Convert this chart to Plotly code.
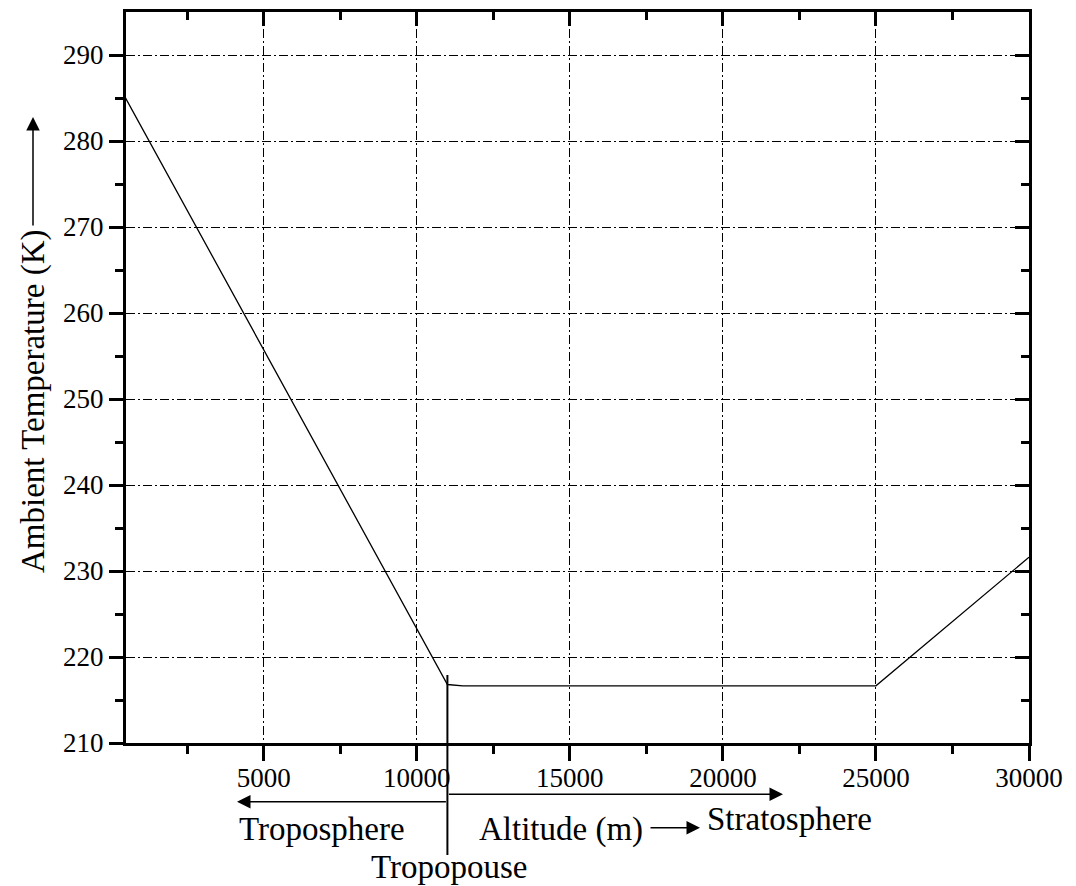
import plotly.graph_objects as go

# ---- data ----
altitude_m = [0, 11000, 11500, 25000, 30000]
temperature_K = [288.15, 216.8, 216.65, 216.65, 231.6]

x_major = [5000, 10000, 15000, 20000, 25000, 30000]
x_major_text = ["5000", "10000", "15000", "20000", "25000", "30000"]
x_minor = [2500, 7500, 12500, 17500, 22500, 27500]
y_major = [210, 220, 230, 240, 250, 260, 270, 280, 290]
y_major_text = [str(v) for v in y_major]
y_minor = [215, 225, 235, 245, 255, 265, 275, 285]

x_range = [500, 30000]
y_range = [210, 295]
tropopause_alt = 11000

# ---- layout geometry (window pixels; page body has an 8px margin) ----
W, H = 1076, 886
OFF = 8
PLOT_L, PLOT_R, PLOT_T, PLOT_B = 126, 1029, 12, 743
PW, PH = PLOT_R - PLOT_L, PLOT_B - PLOT_T
ML = PLOT_L - OFF
MT = PLOT_T - OFF
MR = W - ML - PW
MB = H - MT - PH
FONT = "Liberation Serif, Times New Roman, Times, serif"
TICK_SIZE = 27
TEXT_SIZE = 33


def xpap(px):
    return (px - PLOT_L) / PW


def ypap(py):
    return (PLOT_B - py) / PH


def x_to_px(v):
    return PLOT_L + (v - x_range[0]) / (x_range[1] - x_range[0]) * PW


fig = go.Figure()
fig.add_trace(go.Scatter(x=altitude_m, y=temperature_K, mode="lines",
                         line=dict(color="black", width=1.3),
                         showlegend=False, hoverinfo="skip"))
fig.add_trace(go.Scatter(x=[None], y=[None], xaxis="x2", yaxis="y2",
                         showlegend=False, hoverinfo="skip"))

grid_dash = "9px,3px,2px,3px"
common = dict(showline=True, linewidth=3, linecolor="black", zeroline=False,
              tickcolor="black", tickwidth=3, tickmode="array")

fig.update_layout(
    width=W, height=H,
    margin=dict(l=ML, r=MR, t=MT, b=MB, pad=0),
    paper_bgcolor="white", plot_bgcolor="white",
    font=dict(family=FONT, color="black", size=TICK_SIZE),
    xaxis=dict(range=x_range, tickvals=x_major, ticktext=x_major_text,
               ticks="outside", ticklen=15, ticklabelstandoff=-6,
               showgrid=True, gridcolor="black", gridwidth=1, griddash=grid_dash,
               minor=dict(tickvals=x_minor, ticks="outside", ticklen=8,
                          tickwidth=3, tickcolor="black", showgrid=False),
               tickfont=dict(size=TICK_SIZE), **common),
    yaxis=dict(range=y_range, tickvals=y_major, ticktext=y_major_text,
               ticks="outside", ticklen=14,
               showgrid=True, gridcolor="black", gridwidth=1, griddash=grid_dash,
               minor=dict(tickvals=y_minor, ticks="outside", ticklen=8,
                          tickwidth=3, tickcolor="black", showgrid=False),
               tickfont=dict(size=TICK_SIZE), **common),
    xaxis2=dict(range=x_range, overlaying="x", side="top", anchor="y2",
                tickvals=x_major, ticks="inside", ticklen=14,
                showticklabels=False, showgrid=False,
                minor=dict(tickvals=x_minor, ticks="inside", ticklen=8,
                           tickwidth=3, tickcolor="black", showgrid=False),
                **common),
    yaxis2=dict(range=y_range, overlaying="y", side="right", anchor="x2",
                tickvals=y_major, ticks="inside", ticklen=14,
                showticklabels=False, showgrid=False,
                minor=dict(tickvals=y_minor, ticks="inside", ticklen=8,
                           tickwidth=3, tickcolor="black", showgrid=False),
                **common),
)

trop_px = x_to_px(tropopause_alt)
arrow_style = dict(showarrow=True, arrowhead=2, arrowsize=1.8, arrowwidth=1.5,
                   arrowcolor="black", standoff=0, startstandoff=0,
                   xref="paper", yref="paper", text="")
ann = []
# y-axis title with arrow
ann.append(dict(text="Ambient Temperature (K)", textangle=-90,
                x=xpap(33), y=ypap(402), xref="paper", yref="paper",
                showarrow=False, font=dict(size=TEXT_SIZE),
                xanchor="center", yanchor="middle"))
ann.append(dict(x=xpap(33), y=ypap(117), ax=0, ay=227 - 117, **arrow_style))
# troposphere arrow (left)
ann.append(dict(x=xpap(237), y=ypap(801.7), ax=trop_px - 237, ay=0, **arrow_style))
# stratosphere arrow (right)
ann.append(dict(x=xpap(783), y=ypap(794.3), ax=trop_px - 783, ay=0, **arrow_style))
# small arrow after Altitude (m)
ann.append(dict(x=xpap(700), y=ypap(827.7), ax=-51, ay=0, **arrow_style))
# text labels
for txt, px, py in [("Troposphere", 322, 829), ("Altitude (m)", 561, 829),
                    ("Stratosphere", 789, 819), ("Tropopouse", 449, 867)]:
    ann.append(dict(text=txt, x=xpap(px), y=ypap(py), xref="paper", yref="paper",
                    showarrow=False, font=dict(size=TEXT_SIZE),
                    xanchor="center", yanchor="middle"))
fig.update_layout(annotations=ann)

# tropopause marker line
fig.add_shape(type="line", xref="paper", yref="paper",
              x0=xpap(trop_px), x1=xpap(trop_px), y0=ypap(675), y1=ypap(855),
              line=dict(color="black", width=2))

fig.write_html("out.html")
